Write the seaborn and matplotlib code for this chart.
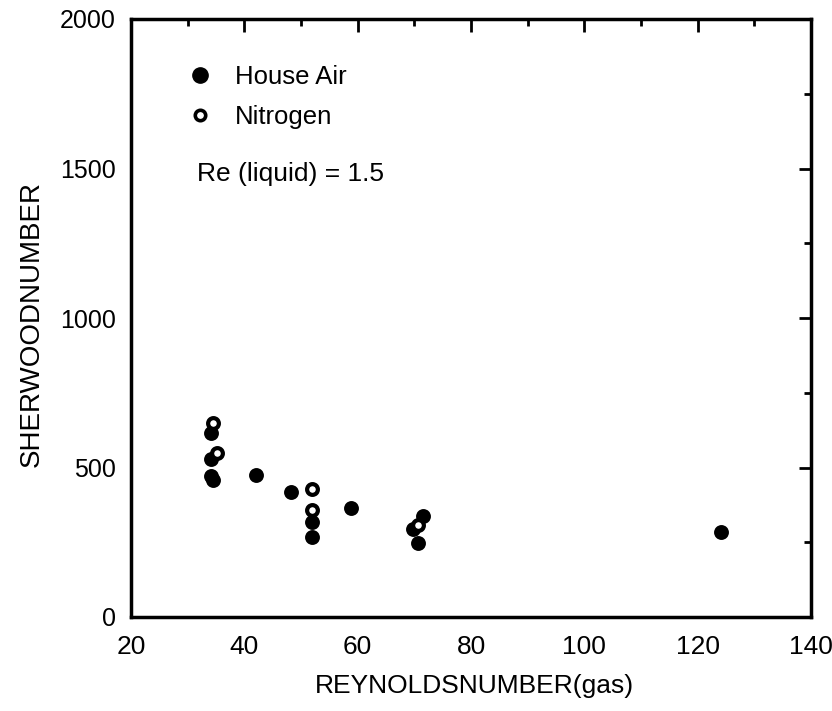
import matplotlib
matplotlib.use("Agg")
import matplotlib.pyplot as plt
import seaborn as sns
import pandas as pd
from matplotlib.lines import Line2D
from matplotlib.ticker import MultipleLocator

# Data
air_re = [34.1, 34.1, 34.1, 34.5, 42.1, 48.2, 51.9, 51.9, 58.9, 71.6, 69.8, 70.6, 124.2]
air_sh = [616, 528, 472, 458, 475, 419, 319, 267, 366, 338, 293, 246, 284]
n2_re = [34.5, 35.1, 51.9, 51.9, 70.6]
n2_sh = [648, 549, 428, 358, 308]
series_names = ["House Air", "Nitrogen"]
annotation = "Re (liquid) = 1.5"
x_label = "REYNOLDSNUMBER(gas)"
y_label = "SHERWOODNUMBER"

sns.set_theme(style="white")
plt.rcParams['font.family'] = ['Liberation Sans', 'DejaVu Sans']
plt.rcParams['text.color'] = 'black'
plt.rcParams['axes.labelcolor'] = 'black'
plt.rcParams['xtick.color'] = 'black'
plt.rcParams['ytick.color'] = 'black'

fig = plt.figure(figsize=(8.32, 7.11), dpi=100)
ax = fig.add_axes([131/832, 94/711, 680/832, 598/711])

df_air = pd.DataFrame({"x": air_re, "y": air_sh})
df_n2 = pd.DataFrame({"x": n2_re, "y": n2_sh})

sns.scatterplot(data=df_air, x="x", y="y", ax=ax, marker="o", s=115,
                color="black", edgecolor="black", linewidth=0, zorder=3)
sns.scatterplot(data=df_n2, x="x", y="y", ax=ax, marker="o", s=60,
                facecolor="white", edgecolor="black", linewidth=3, zorder=4)

ax.set_xlim(20, 140)
ax.set_ylim(0, 2000)
ax.xaxis.set_major_locator(MultipleLocator(20))
ax.xaxis.set_minor_locator(MultipleLocator(10))
ax.yaxis.set_major_locator(MultipleLocator(500))
ax.yaxis.set_minor_locator(MultipleLocator(250))
ax.tick_params(which="both", direction="in", top=True, right=True,
               color="black", width=2, labelcolor="black")
ax.tick_params(which="major", length=9, labelsize=18)
ax.tick_params(axis="x", which="major", labelsize=19, pad=13)
ax.tick_params(which="minor", length=5)
ax.tick_params(axis="y", which="major", pad=11)
for sp in ax.spines.values():
    sp.set_color("black")
    sp.set_linewidth(2.5)

ax.set_xlabel(x_label, fontsize=19, va="center")
ax.xaxis.set_label_coords(0.505, -0.115)
ax.set_ylabel(y_label, fontsize=20, va="center")
ax.yaxis.set_label_coords(-0.1456, 0.49)

handles = [
    Line2D([], [], linestyle="none", marker="o", markersize=11,
           markerfacecolor="black", markeredgecolor="black"),
    Line2D([], [], linestyle="none", marker="o", markersize=7.5,
           markerfacecolor="white", markeredgecolor="black", markeredgewidth=2.6),
]
ax.legend(handles, series_names, loc="upper left", bbox_to_anchor=(0.0676, 0.94),
          frameon=False, fontsize=18.5, handletextpad=0.86, labelspacing=0.62,
          handlelength=1.0, borderaxespad=0, labelcolor="black")

ax.text(0.097, 0.74, annotation, transform=ax.transAxes, fontsize=19,
        va="center", ha="left", color="black")

fig.savefig("out.png", dpi=100)
